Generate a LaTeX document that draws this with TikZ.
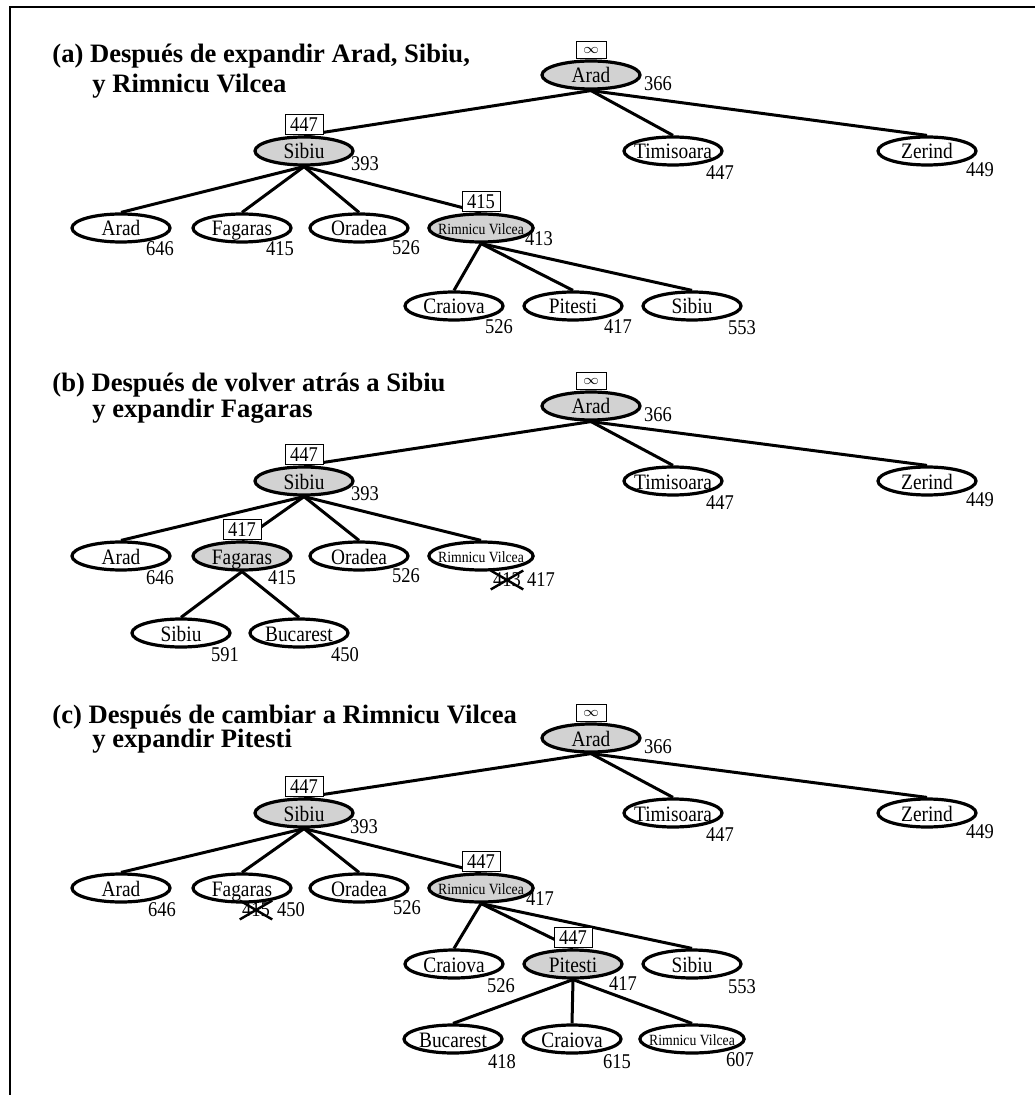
\documentclass[tikz,border=0pt]{standalone}
\usepackage{fontspec}
\setmainfont{Liberation Serif}
\newfontfamily\nodefont[FakeStretch=0.88]{Liberation Serif}
\usetikzlibrary{calc, positioning, shapes.geometric}

\begin{document}
\begin{tikzpicture}[x=0.5pt, y=-0.5pt,
    city/.style={ellipse, draw, line width=1.6pt, minimum width=49pt, minimum height=14pt, inner xsep=-3pt, inner ysep=0pt, text height=8pt, text depth=0pt, font=\nodefont\fontsize{11}{12}\selectfont},
    expanded/.style={fill=gray!35},
    smalltext/.style={text height=6.5pt, font=\nodefont\fontsize{7.8}{9}\selectfont},
    val/.style={inner sep=0pt, font=\nodefont\fontsize{10.5}{12}\selectfont},
    bound/.style={draw, fill=white, line width=0.5pt, minimum width=19pt, minimum height=10pt, inner sep=0.5pt, font=\nodefont\fontsize{10.5}{12}\selectfont},
    infbox/.style={bound, minimum width=15pt, minimum height=8.5pt, font=\scriptsize},
    link/.style={line width=1.5pt},
    strike/.style={line width=1.2pt},
    heading/.style={anchor=base west, inner sep=0pt, font=\bfseries\fontsize{13.3}{15}\selectfont}]

\useasboundingbox (0,0) rectangle (1035,1095);
\draw[line width=0.6pt] (10,1095) -- (10,7) -- (1035,7);

%% (a)
\node[heading] at (52,63) (ta1) {(a) Después de expandir Arad, Sibiu,};
\node[heading] at (92,93) (ta2) {y Rimnicu Vilcea};

\node[city, expanded] at (591,75) (aArad) {Arad};
\node[city, expanded] at (304,151) (aSibiu) {Sibiu};
\node[city] at (673,151) (aTimi) {Timisoara};
\node[city] at (927,151) (aZeri) {Zerind};
\node[city] at (121,228) (aArad2) {Arad};
\node[city] at (242,228) (aFaga) {Fagaras};
\node[city] at (359,228) (aOrad) {Oradea};
\node[city, expanded, smalltext] at (481,228) (aRimn) {Rimnicu Vilcea};
\node[city] at (454,306) (aCrai) {Craiova};
\node[city] at (573,306) (aPite) {Pitesti};
\node[city] at (692,306) (aSibiu2) {Sibiu};

\node[val] at ($(aArad) + (67,9)$) (aAradf) {366};
\node[val] at ($(aSibiu) + (61,13)$) (aSibiuf) {393};
\node[val] at ($(aTimi) + (47,22)$) (aTimif) {447};
\node[val] at ($(aZeri) + (53,19)$) (aZerif) {449};
\node[val] at ($(aArad2) + (39,21)$) (aArad2f) {646};
\node[val] at ($(aFaga) + (38,21)$) (aFagaf) {415};
\node[val] at ($(aOrad) + (47,20)$) (aOradf) {526};
\node[val] at ($(aRimn) + (58,11)$) (aRimnf) {413};
\node[val] at ($(aCrai) + (45,21)$) (aCraif) {526};
\node[val] at ($(aPite) + (45,21)$) (aPitef) {417};
\node[val] at ($(aSibiu2) + (50,22)$) (aSibiu2f) {553};

\draw[link] (aArad.south) -- (aSibiu.north);
\draw[link] (aArad.south) -- (aTimi.north);
\draw[link] (aArad.south) -- (aZeri.north);
\draw[link] (aSibiu.south) -- (aArad2.north);
\draw[link] (aSibiu.south) -- (aFaga.north);
\draw[link] (aSibiu.south) -- (aOrad.north);
\draw[link] (aSibiu.south) -- (aRimn.north);
\draw[link] (aRimn.south) -- (aCrai.north);
\draw[link] (aRimn.south) -- (aPite.north);
\draw[link] (aRimn.south) -- (aSibiu2.north);

\node[infbox, above=0pt of aArad] (aAradb) {$\infty$};
\node[bound, above=0pt of aSibiu] (aSibiub) {447};
\node[bound, above=0pt of aRimn] (aRimnb) {415};

%% (b)
\node[heading] at (52,392) (tb1) {(b) Después de volver atrás a Sibiu};
\node[heading] at (92,418) (tb2) {y expandir Fagaras};

\node[city, expanded] at (591,406) (bArad) {Arad};
\node[city, expanded] at (304,481) (bSibiu) {Sibiu};
\node[city] at (673,481) (bTimi) {Timisoara};
\node[city] at (927,481) (bZeri) {Zerind};
\node[city] at (121,556) (bArad2) {Arad};
\node[city, expanded] at (242,556) (bFaga) {Fagaras};
\node[city] at (359,556) (bOrad) {Oradea};
\node[city, smalltext] at (481,556) (bRimn) {Rimnicu Vilcea};
\node[city] at (181,633) (bSibiu2) {Sibiu};
\node[city] at (299,633) (bBuca) {Bucarest};

\node[val] at ($(bArad) + (67,9)$) (bAradf) {366};
\node[val] at ($(bSibiu) + (61,13)$) (bSibiuf) {393};
\node[val] at ($(bTimi) + (47,22)$) (bTimif) {447};
\node[val] at ($(bZeri) + (53,19)$) (bZerif) {449};
\node[val] at ($(bArad2) + (39,22)$) (bArad2f) {646};
\node[val] at ($(bFaga) + (40,22)$) (bFagaf) {415};
\node[val] at ($(bOrad) + (47,20)$) (bOradf) {526};
\node[val, inner sep=1pt] at ($(bRimn) + (26,24)$) (bRimnx) {413};
\node[val] at ($(bRimn) + (60,24)$) (bRimnf) {417};
\node[val] at ($(bSibiu2) + (44,22)$) (bSibiu2f) {591};
\node[val] at ($(bBuca) + (46,22)$) (bBucaf) {450};
\draw[strike] (bRimnx.north west) -- (bRimnx.south east) (bRimnx.south west) -- (bRimnx.north east);

\draw[link] (bArad.south) -- (bSibiu.north);
\draw[link] (bArad.south) -- (bTimi.north);
\draw[link] (bArad.south) -- (bZeri.north);
\draw[link] (bSibiu.south) -- (bArad2.north);
\draw[link] (bSibiu.south) -- (bFaga.north);
\draw[link] (bSibiu.south) -- (bOrad.north);
\draw[link] (bSibiu.south) -- (bRimn.north);
\draw[link] (bFaga.south) -- (bSibiu2.north);
\draw[link] (bFaga.south) -- (bBuca.north);

\node[infbox, above=0pt of bArad] (bAradb) {$\infty$};
\node[bound, above=0pt of bSibiu] (bSibiub) {447};
\node[bound, above=0pt of bFaga] (bFagab) {417};

%% (c)
\node[heading] at (52,723) (tc1) {(c) Después de cambiar a Rimnicu Vilcea};
\node[heading] at (92,747) (tc2) {y expandir Pitesti};

\node[city, expanded] at (591,738) (cArad) {Arad};
\node[city, expanded] at (304,813) (cSibiu) {Sibiu};
\node[city] at (673,813) (cTimi) {Timisoara};
\node[city] at (927,813) (cZeri) {Zerind};
\node[city] at (121,888) (cArad2) {Arad};
\node[city] at (242,888) (cFaga) {Fagaras};
\node[city] at (359,888) (cOrad) {Oradea};
\node[city, expanded, smalltext] at (481,888) (cRimn) {Rimnicu Vilcea};
\node[city] at (454,964) (cCrai) {Craiova};
\node[city, expanded] at (573,964) (cPite) {Pitesti};
\node[city] at (692,964) (cSibiu2) {Sibiu};
\node[city] at (453,1039) (cBuca) {Bucarest};
\node[city] at (572,1039) (cCrai2) {Craiova};
\node[city, smalltext] at (692,1039) (cRimn2) {Rimnicu Vilcea};

\node[val] at ($(cArad) + (67,9)$) (cAradf) {366};
\node[val] at ($(cSibiu) + (60,14)$) (cSibiuf) {393};
\node[val] at ($(cTimi) + (47,22)$) (cTimif) {447};
\node[val] at ($(cZeri) + (53,19)$) (cZerif) {449};
\node[val] at ($(cArad2) + (41,22)$) (cArad2f) {646};
\node[val, inner sep=1pt] at ($(cFaga) + (14,22)$) (cFagax) {415};
\node[val] at ($(cFaga) + (49,22)$) (cFagaf) {450};
\node[val] at ($(cOrad) + (48,20)$) (cOradf) {526};
\node[val] at ($(cRimn) + (59,11)$) (cRimnf) {417};
\node[val] at ($(cCrai) + (47,22)$) (cCraif) {526};
\node[val] at ($(cPite) + (50,20)$) (cPitef) {417};
\node[val] at ($(cSibiu2) + (50,23)$) (cSibiu2f) {553};
\node[val] at ($(cBuca) + (49,23)$) (cBucaf) {418};
\node[val] at ($(cCrai2) + (45,23)$) (cCrai2f) {615};
\node[val] at ($(cRimn2) + (48,21)$) (cRimn2f) {607};
\draw[strike] (cFagax.north west) -- (cFagax.south east) (cFagax.south west) -- (cFagax.north east);

\draw[link] (cArad.south) -- (cSibiu.north);
\draw[link] (cArad.south) -- (cTimi.north);
\draw[link] (cArad.south) -- (cZeri.north);
\draw[link] (cSibiu.south) -- (cArad2.north);
\draw[link] (cSibiu.south) -- (cFaga.north);
\draw[link] (cSibiu.south) -- (cOrad.north);
\draw[link] (cSibiu.south) -- (cRimn.north);
\draw[link] (cRimn.south) -- (cCrai.north);
\draw[link] (cRimn.south) -- (cPite.north);
\draw[link] (cRimn.south) -- (cSibiu2.north);
\draw[link] (cPite.south) -- (cBuca.north);
\draw[link] (cPite.south) -- (cCrai2.north);
\draw[link] (cPite.south) -- (cRimn2.north);

\node[infbox, above=0pt of cArad] (cAradb) {$\infty$};
\node[bound, above=0pt of cSibiu] (cSibiub) {447};
\node[bound, above=0pt of cRimn] (cRimnb) {447};
\node[bound, above=0pt of cPite] (cPiteb) {447};

\end{tikzpicture}
\end{document}
